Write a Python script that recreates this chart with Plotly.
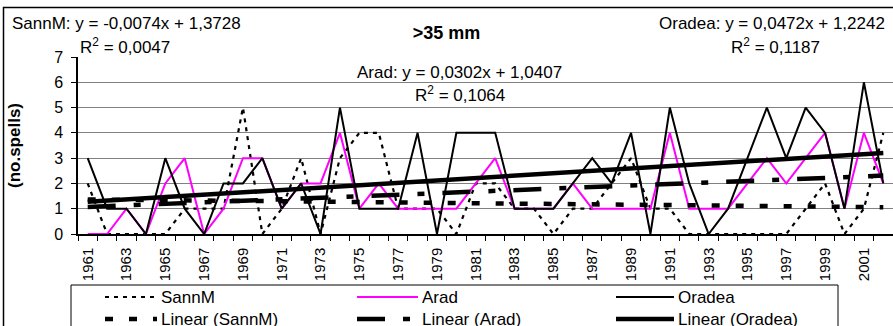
import plotly.graph_objects as go
import numpy as np

# ---------------- data ----------------
years = list(range(1961, 2003))
sannm = [2, 0, 0, 0, 0, 1, 1, 1, 5, 0,
         1, 3, 0, 3, 4, 4, 1, 1, 1, 0,
         2, 2, 1, 1, 0, 1, 1, 2, 3, 1,
         1, 0, 0, 0, 0, 0, 0, 1, 2, 0,
         1, 4]
arad = [0, 0, 1, 0, 2, 3, 0, 1, 3, 3,
        1, 2, 2, 4, 1, 2, 1, 1, 1, 1,
        2, 3, 1, 1, 1, 2, 1, 1, 1, 1,
        4, 1, 1, 1, 2, 3, 2, 3, 4, 1,
        4, 2]
oradea = [3, 1, 1, 0, 3, 1, 0, 2, 2, 3,
          1, 2, 0, 5, 1, 1, 1, 4, 0, 4,
          4, 4, 1, 1, 1, 2, 3, 2, 4, 0,
          5, 2, 0, 1, 3, 5, 3, 5, 4, 1,
          6, 2]
tick_years = list(range(1961, 2002, 2))
y_ticks = list(range(0, 8))
title_text = ">35 mm"
y_title = "(no.spells)"
eq_sannm = ["SannM: y = -0,0074x + 1,3728", "R<sup>2</sup> = 0,0047"]
eq_oradea = ["Oradea: y = 0,0472x + 1,2242", "R<sup>2</sup> = 0,1187"]
eq_arad = ["Arad: y = 0,0302x + 1,0407", "R<sup>2</sup> = 0,1064"]
legend_names = [["SannM", "Arad", "Oradea"],
                ["Linear (SannM)", "Linear (Arad)", "Linear (Oradea)"]]

# ---------------- geometry ----------------
W, H = 893, 326
L, R, T, B = 78, 0, 57, 92
PW, PH = W - L - R, H - T - B
FONT = "Liberation Sans, Arial, sans-serif"


def px2x(px):
    return (px - L) / PW


def py2y(py):
    return (H - B - py) / PH


idx = np.arange(1, len(years) + 1)


def trend(vals):
    m, b = np.polyfit(idx, np.array(vals, dtype=float), 1)
    return m * idx + b


DOT = "4px,5px"
DASH_S = "8px,16px"
DASH_A = "28px,18px,7px,18px"

fig = go.Figure()
fig.add_trace(go.Scatter(x=years, y=sannm, mode="lines", name="SannM",
                         line=dict(color="black", width=2.2, dash=DOT)))
fig.add_trace(go.Scatter(x=years, y=arad, mode="lines", name="Arad",
                         line=dict(color="#FF00FF", width=2)))
fig.add_trace(go.Scatter(x=years, y=oradea, mode="lines", name="Oradea",
                         line=dict(color="black", width=2)))
fig.add_trace(go.Scatter(x=years, y=trend(sannm), mode="lines", name="Linear (SannM)",
                         line=dict(color="black", width=4.5, dash=DASH_S)))
fig.add_trace(go.Scatter(x=years, y=trend(arad), mode="lines", name="Linear (Arad)",
                         line=dict(color="black", width=4.5, dash=DASH_A)))
fig.add_trace(go.Scatter(x=years, y=trend(oradea), mode="lines", name="Linear (Oradea)",
                         line=dict(color="black", width=4.5)))

shapes = []
# outer chart border (only left/top visible)
shapes.append(dict(type="rect", xref="paper", yref="paper",
                   x0=px2x(3.5), x1=px2x(1000), y0=py2y(7.5), y1=py2y(1000),
                   line=dict(color="black", width=1.5), fillcolor="rgba(0,0,0,0)",
                   layer="above"))
# legend box
shapes.append(dict(type="rect", xref="paper", yref="paper",
                   x0=px2x(71), x1=px2x(838), y0=py2y(285), y1=py2y(400),
                   line=dict(color="black", width=1), fillcolor="white"))

annotations = []
row_y = [297, 319]
col_x = [(105, 157), (357, 418), (616, 674)]
styles = [[dict(color="black", width=2.2, dash=DOT), dict(color="#FF00FF", width=2),
           dict(color="black", width=2)],
          [dict(color="black", width=4.5, dash=DASH_S), dict(color="black", width=4.5, dash=DASH_A),
           dict(color="black", width=4.5)]]
for r in range(2):
    for c in range(3):
        x0, x1 = col_x[c]
        shapes.append(dict(type="line", xref="paper", yref="paper",
                           x0=px2x(x0), x1=px2x(x1), y0=py2y(row_y[r]), y1=py2y(row_y[r]),
                           line=styles[r][c]))
        annotations.append(dict(xref="paper", yref="paper", x=px2x(x1 + 2), y=py2y(row_y[r]),
                                text=legend_names[r][c], showarrow=False, xanchor="left",
                                yanchor="middle", font=dict(family=FONT, size=17, color="black")))


def ann(text, px, py, xanchor):
    annotations.append(dict(xref="paper", yref="paper", x=px2x(px), y=py2y(py), text=text,
                            showarrow=False, xanchor=xanchor, yanchor="middle",
                            font=dict(family=FONT, size=17, color="black")))


ann(eq_sannm[0], 10, 23.5, "left")
ann(eq_sannm[1], 125, 46, "center")
ann(eq_oradea[0], 887, 23.5, "right")
ann(eq_oradea[1], 775, 46, "center")
ann(eq_arad[0], 459, 72, "center")
ann(eq_arad[1], 460, 94, "center")

annotations.append(dict(xref="paper", yref="paper", x=px2x(14), y=py2y(146), text=y_title,
                        textangle=-90, showarrow=False, xanchor="center", yanchor="middle",
                        font=dict(family=FONT, size=17, color="black", weight="bold")))

fig.update_layout(
    width=W, height=H, margin=dict(l=L, r=R, t=T, b=B, pad=0),
    paper_bgcolor="white", plot_bgcolor="white",
    showlegend=False,
    title=dict(text="<b>" + title_text + "</b>", x=0.5, xref="container", xanchor="center",
               y=1 - 33 / H, yref="container", yanchor="middle",
               font=dict(family=FONT, size=18, color="black")),
    shapes=shapes, annotations=annotations,
    xaxis=dict(range=[1960.5, 2002.5], tickmode="array", tickvals=tick_years,
               ticktext=[str(y) for y in tick_years], tickangle=-90, ticks="",
               tickfont=dict(family=FONT, size=15, color="black"),
               showline=True, linecolor="black", linewidth=1.5, showgrid=False,
               zeroline=False, ticklabelstandoff=6,
               minor=dict(tickmode="array", tickvals=[y - 0.5 for y in years] + [years[-1] + 0.5],
                          ticks="outside", ticklen=5, tickcolor="black", tickwidth=1,
                          showgrid=False)),
    yaxis=dict(range=[0, 7], tickmode="array", tickvals=y_ticks, ticks="outside", ticklen=5,
               tickcolor="black", tickwidth=1, tickfont=dict(family=FONT, size=16, color="black"),
               showline=True, linecolor="black", linewidth=1.5, showgrid=True,
               gridcolor="#808080", gridwidth=1, zeroline=False, ticklabelstandoff=5),
)

fig.write_html("out.html")
